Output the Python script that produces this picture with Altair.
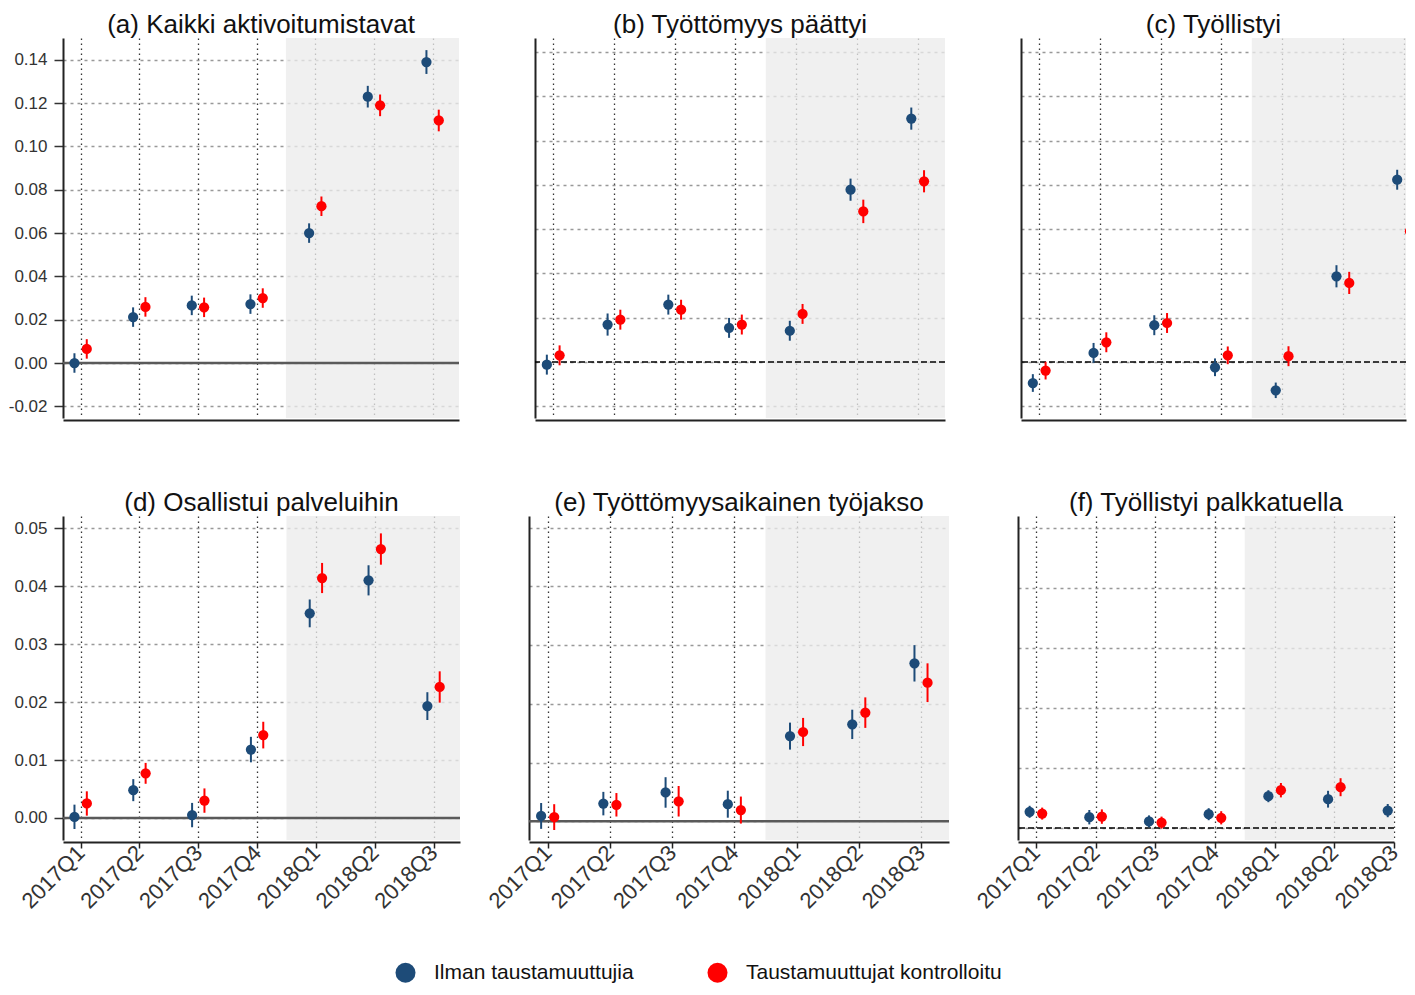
import altair as alt
import pandas as pd

quarters = ["2017Q1", "2017Q2", "2017Q3", "2017Q4", "2018Q1", "2018Q2", "2018Q3"]
series_names = ["Ilman taustamuuttujia", "Taustamuuttujat kontrolloitu"]
series_colors = ["#1d4b78", "#ff0000"]

panel_titles = [
    "(a) Kaikki aktivoitumistavat",
    "(b) Työttömyys päättyi",
    "(c) Työllistyi",
    "(d) Osallistui palveluihin",
    "(e) Työttömyysaikainen työjakso",
    "(f) Työllistyi palkkatuella",
]

top_ticks = [-0.02, 0.00, 0.02, 0.04, 0.06, 0.08, 0.10, 0.12, 0.14]
bottom_ticks = [0.00, 0.01, 0.02, 0.03, 0.04, 0.05]

# (a)
a_blue = [0.0000, 0.0212, 0.0266, 0.0272, 0.0600, 0.1230, 0.1390]
a_blue_ci = [0.0045, 0.0045, 0.0045, 0.0045, 0.0045, 0.0050, 0.0055]
a_red = [0.0065, 0.0259, 0.0257, 0.0300, 0.0724, 0.1190, 0.1120]
a_red_ci = [0.0045, 0.0045, 0.0045, 0.0045, 0.0045, 0.0050, 0.0050]
# (b)
b_blue = [-0.0012, 0.0169, 0.0259, 0.0154, 0.0141, 0.0778, 0.1099]
b_blue_ci = [0.0045, 0.0050, 0.0045, 0.0045, 0.0045, 0.0050, 0.0050]
b_red = [0.0030, 0.0191, 0.0236, 0.0169, 0.0217, 0.0680, 0.0816]
b_red_ci = [0.0045, 0.0045, 0.0045, 0.0045, 0.0045, 0.0053, 0.0050]
# (c)
c_blue = [-0.0095, 0.0041, 0.0166, -0.0024, -0.0128, 0.0387, 0.0823]
c_blue_ci = [0.0040, 0.0045, 0.0045, 0.0040, 0.0035, 0.0050, 0.0045]
c_red = [-0.0039, 0.0089, 0.0176, 0.0030, 0.0026, 0.0357, 0.0590]
c_red_ci = [0.0040, 0.0045, 0.0045, 0.0040, 0.0045, 0.0050, 0.0050]
# (d)
d_blue = [0.0002, 0.0048, 0.0005, 0.0118, 0.0353, 0.0410, 0.0193]
d_blue_ci = [0.0021, 0.0019, 0.0021, 0.0022, 0.0024, 0.0026, 0.0024]
d_red = [0.0025, 0.0077, 0.0030, 0.0143, 0.0414, 0.0464, 0.0226]
d_red_ci = [0.0021, 0.0018, 0.0021, 0.0023, 0.0026, 0.0027, 0.0027]
# (e)
e_blue = [0.0009, 0.0030, 0.0049, 0.0029, 0.0145, 0.0165, 0.0269]
e_blue_ci = [0.0022, 0.0020, 0.0026, 0.0023, 0.0023, 0.0025, 0.0031]
e_red = [0.0007, 0.0028, 0.0034, 0.0019, 0.0152, 0.0185, 0.0236]
e_red_ci = [0.0022, 0.0020, 0.0026, 0.0023, 0.0024, 0.0026, 0.0033]
# (f)
f_blue = [0.0027, 0.0018, 0.0011, 0.0023, 0.0053, 0.0048, 0.0029]
f_blue_ci = [0.0010, 0.0012, 0.0010, 0.0010, 0.0010, 0.0014, 0.0011]
f_red = [0.0024, 0.0019, 0.0009, 0.0017, 0.0063, 0.0068, 0.0046]
f_red_ci = [0.0010, 0.0012, 0.0010, 0.0011, 0.0012, 0.0015, 0.0012]

FONT = "Liberation Sans"
label_expr = "[" + ",".join("'%s'" % q for q in quarters) + "][datum.value]"
ylabel_expr = "replace(format(datum.value, '.2f'), '\u2212', '-')"


def make_df(blue, blue_ci, red, red_ci):
    rows = []
    for name, vals, cis in ((series_names[0], blue, blue_ci), (series_names[1], red, red_ci)):
        for i, q in enumerate(quarters):
            rows.append({"idx": i, "quarter": q, "series": name, "value": vals[i], "ci": cis[i]})
    return pd.DataFrame(rows)


legend_def = alt.Legend(
    orient="none", legendX=332, legendY=924, direction="horizontal", title=None,
    symbolType="circle", symbolSize=400, symbolStrokeWidth=0, symbolOpacity=1,
    labelFontSize=21, labelFont=FONT, labelColor="#111", labelOffset=18, labelLimit=600,
    columnPadding=73, padding=0,
)


def panel(title, df, xdom, ydom, width, height, ticks, show_y, show_x, zero_dark,
          clip=False, ylabel_pad=5):
    xaxis = alt.Axis(
        values=list(range(len(quarters))), labelExpr=label_expr, title=None,
        labels=show_x, ticks=show_x, tickSize=6, tickColor="#222", tickWidth=1.5,
        labelAngle=315, labelAlign="right", labelBaseline="middle", labelPadding=1,
        labelFontSize=22, labelColor="#333", labelFont=FONT,
        labelOverlap=False, labelFlush=False,
        domain=True, domainColor="#222", domainWidth=2, offset=2,
        grid=True, gridColor="#111", gridDash=[1.5, 3.5], gridWidth=1.3, gridOpacity=0.85,
    )
    yaxis = alt.Axis(
        values=ticks, labelExpr=ylabel_expr, title=None,
        labels=show_y, ticks=show_y, tickSize=9, tickColor="#333", tickWidth=1.5,
        labelPadding=ylabel_pad, labelFontSize=17, labelColor="#333", labelFont=FONT,
        labelOverlap=False, labelFlush=False,
        domain=True, domainColor="#222", domainWidth=2,
        grid=True, gridColor="#999", gridDash=[3, 4], gridWidth=1.3,
    )
    xs = alt.Scale(domain=xdom, nice=False, zero=False)
    ys = alt.Scale(domain=ydom, nice=False, zero=False)
    cscale = alt.Scale(domain=series_names, range=series_colors)

    shade_df = pd.DataFrame({"x1": [3.5], "x2": [xdom[1]], "y1": [ydom[0]], "y2": [ydom[1]]})
    shade = alt.Chart(shade_df).mark_rect(color="#ebebeb", opacity=0.765).encode(
        x=alt.X("x1:Q", scale=xs, axis=xaxis), x2="x2:Q",
        y=alt.Y("y1:Q", scale=ys, axis=yaxis), y2="y2:Q",
    )
    if zero_dark:
        zmark = dict(color="#000000", strokeWidth=1.5, strokeDash=[6, 3])
    else:
        zmark = dict(color="#5a5a5a", strokeWidth=2.5)
    zero = alt.Chart(pd.DataFrame({"z": [0.0]})).mark_rule(**zmark).encode(
        y=alt.Y("z:Q", scale=ys, axis=yaxis)
    )
    base = alt.Chart(df).transform_calculate(
        xpos="datum.idx + (datum.series === '%s' ? -0.105 : 0.105)" % series_names[0],
        lo="datum.value - datum.ci",
        hi="datum.value + datum.ci",
    )
    bars = base.mark_rule(strokeWidth=2, clip=clip).encode(
        x=alt.X("xpos:Q", scale=xs, axis=xaxis),
        y=alt.Y("lo:Q", scale=ys, axis=yaxis), y2="hi:Q",
        color=alt.Color("series:N", scale=cscale, legend=legend_def),
    )
    pts = base.mark_circle(size=105, opacity=1, clip=clip).encode(
        x=alt.X("xpos:Q", scale=xs, axis=xaxis),
        y=alt.Y("value:Q", scale=ys, axis=yaxis),
        color=alt.Color("series:N", scale=cscale, legend=legend_def),
    )
    return alt.layer(shade, zero, bars, pts).properties(
        width=width, height=height,
        title=alt.TitleParams(title, fontSize=26, font=FONT, fontWeight="normal",
                              color="#111", anchor="middle", offset=0),
    )


pa = panel(panel_titles[0], make_df(a_blue, a_blue_ci, a_red, a_red_ci),
           [-0.3, 6.45], [-0.0254, 0.1501], 396, 380, top_ticks, True, False, False,
           ylabel_pad=7)
pb = panel(panel_titles[1], make_df(b_blue, b_blue_ci, b_red, b_red_ci),
           [-0.3, 6.45], [-0.0253, 0.1463], 410, 380, top_ticks, False, False, True)
pc = panel(panel_titles[2], make_df(c_blue, c_blue_ci, c_red, c_red_ci),
           [-0.3, 6.04], [-0.0253, 0.1463], 385, 380, top_ticks, False, False, True, clip=True)
pd_ = panel(panel_titles[3], make_df(d_blue, d_blue_ci, d_red, d_red_ci),
            [-0.3, 6.45], [-0.0038, 0.0521], 397, 324, bottom_ticks, True, True, False,
            ylabel_pad=7)
pe = panel(panel_titles[4], make_df(e_blue, e_blue_ci, e_red, e_red_ci),
           [-0.3, 6.45], [-0.0032, 0.0520], 420, 324, bottom_ticks, False, True, False)
pf = panel(panel_titles[5], make_df(f_blue, f_blue_ci, f_red, f_red_ci),
           [-0.3, 6.0], [-0.0020, 0.0520], 376, 324, bottom_ticks, False, True, True, clip=True)

row1 = alt.hconcat(pa, pb, pc, spacing=76, bounds="flush")
row2 = alt.hconcat(pd_, pe, pf, spacing=69, bounds="flush")

chart = alt.vconcat(row1, row2, spacing=70).properties(
    padding={"left": 0, "top": 4, "right": 0, "bottom": 0},
    background="white",
).configure_view(stroke=None)

chart.save("out.html", embed_options={"renderer": "svg", "actions": False})
